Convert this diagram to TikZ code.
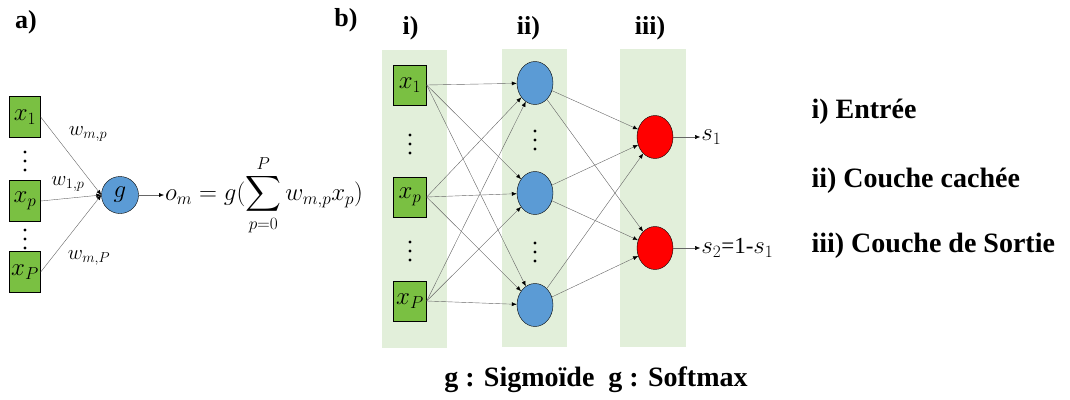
\documentclass[tikz,border=0pt]{standalone}
\usepackage{amsmath}
\usepackage{fontspec}
\setmainfont{Liberation Serif}
\usetikzlibrary{arrows.meta,positioning,shapes.geometric}
\definecolor{boxgreen}{RGB}{122,192,66}
\definecolor{nodeblue}{RGB}{91,155,213}
\definecolor{bandgreen}{RGB}{226,239,218}
% three stacked dots at (x,y)
\newcommand{\colldots}[2]{\foreach \d in {-9,0,9} \fill (#1,#2+\d) circle (1.7);}

\begin{document}
\begin{tikzpicture}[x=1pt, y=-1pt,
  inbox/.style={draw, fill=boxgreen, minimum width=33pt, minimum height=40pt, inner sep=0pt, font=\fontsize{24}{28}\selectfont},
  hid/.style={draw, ellipse, fill=nodeblue, minimum width=36pt, minimum height=43pt, inner sep=0pt, font=\fontsize{24}{28}\selectfont},
  outn/.style={hid, fill=red},
  band/.style={fill=bandgreen, minimum width=65pt, minimum height=298pt, inner sep=0pt},
  arr/.style={-{Latex[length=5pt,width=4pt,color=black]}, draw=black!60, thin},
  title/.style={font=\fontsize{26}{30}\selectfont\bfseries},
  legend/.style={font=\fontsize{28}{32}\selectfont\bfseries},
  wlbl/.style={font=\fontsize{21}{24}\selectfont}
]
\useasboundingbox (0,0) rectangle (1070,399);

% a) one neuron
\node[title] (ta) at (26,22) {a)};
\node[inbox, minimum width=31pt, minimum height=41pt] (ax1) at (25,117) {$x_1$};
\node[inbox, minimum width=31pt, minimum height=41pt] (axp) at (25,201) {$x_p$};
\node[inbox, minimum width=31pt, minimum height=41pt] (axP) at (25,272) {$x_P$};
\colldots{25}{161}
\colldots{25}{239}
\node[hid, minimum width=37pt, minimum height=37pt] (g) at (120,195) {$g$};
\draw[arr] (ax1.east) -- (g.west);
\draw[arr] (axp.east) -- (g.west);
\draw[arr] (axP.east) -- (g.west);
\node[wlbl] at (88,134) {$w_{m,p}$};
\node[wlbl] at (68,184) {$w_{1,p}$};
\node[wlbl] at (89,258) {$w_{m,P}$};
\node[anchor=west, inner sep=1pt, font=\fontsize{24}{28}\selectfont] (om) at (164,195)
  {$\displaystyle o_m = g(\sum_{p=0}^{P} w_{m,p}x_p)$};
\draw[arr] (g.east) -- (om.west);

% b) network
\node[title] (tb) at (346,20) {b)};
\node[band] (band1) at (414.5,199) {};
\node[band] (band2) at (534.5,198) {};
\node[band, minimum width=66pt] (band3) at (653,198) {};
\node[title, above=6pt of band1, xshift=-4pt] {i)};
\node[title, above=5pt of band2, xshift=-6pt] {ii)};
\node[title, above=5pt of band3, xshift=-3pt] {iii)};

\node[inbox] (in1) at (410,85) {$x_1$};
\node[inbox] (in2) at (410,197) {$x_p$};
\node[inbox] (in3) at (410,301) {$x_P$};
\colldots{410}{144}
\colldots{410}{251}

\node[hid] (h1) at (535,83) {};
\node[hid] (h2) at (535,193) {};
\node[hid] (h3) at (535,305) {};
\colldots{535}{140}
\colldots{535}{252}

\node[outn] (o1) at (655,137) {};
\node[outn] (o2) at (655,248) {};

\foreach \i in {1,2,3}
  \foreach \j in {1,2,3}
    \draw[arr] (in\i.east) -- (h\j);
\foreach \i in {1,2,3}
  \foreach \j in {1,2}
    \draw[arr] (h\i) -- (o\j);

\node[right=27pt of o1, inner sep=1pt, font=\fontsize{23}{26}\selectfont] (s1) {$s_1$};
\node[right=27pt of o2, inner sep=1pt, font=\fontsize{23}{26}\selectfont] (s2) {$s_2$=1-$s_1$};
\draw[arr] (o1.east) -- (s1.west);
\draw[arr] (o2.east) -- (s2.west);

% legend
\node[legend, anchor=west] (l1) at (808,112) {i) Entrée};
\node[legend, anchor=west] (l2) at (808,181) {ii) Couche cachée};
\node[legend, anchor=west] (l3) at (808,246) {iii) Couche de Sortie};
\node[legend] (gfun) at (596,380) {g : Sigmoïde\ \ g : Softmax};
\end{tikzpicture}
\end{document}
